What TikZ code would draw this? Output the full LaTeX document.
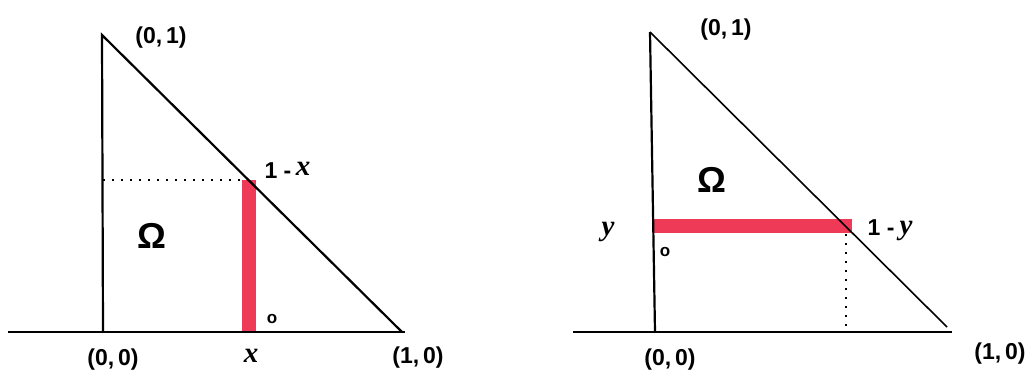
\documentclass[tikz,border=0pt]{standalone}
\usepackage{fontspec}
\setmainfont{Liberation Sans}
\newfontfamily\varfont{Liberation Serif}
\begin{document}
\begin{tikzpicture}[x=1pt,y=-1pt,
  edge/.style={line width=2.2pt,black},
  thin edge/.style={line width=1.6pt,black},
  redbar/.style={line width=14pt,draw={rgb,255:red,238;green,58;blue,86}},
  dots/.style={line width=2pt,dotted,dash pattern=on 2pt off 7pt},
  lab/.style={font=\fontsize{23}{26}\selectfont\bfseries,inner sep=0pt},
  var/.style={font=\fontsize{29}{31}\selectfont\varfont\itshape\bfseries,inner sep=0pt},
  omega/.style={font=\fontsize{36}{40}\selectfont\bfseries,inner sep=0pt},
  small/.style={font=\fontsize{17}{19}\selectfont\bfseries,inner sep=0pt}]
\useasboundingbox (0,0) rectangle (1035,381);
% ---------- left panel ----------
\coordinate (A0) at (103,332);
\coordinate (A1) at (102,35);
\coordinate (A2) at (402,332);
\coordinate (AL) at (8,332);
\coordinate (AR) at (405,332);
\coordinate (Ax) at (249,332);
\coordinate (Ah) at (249,180);
\coordinate (Ad) at (103,180);
\draw[redbar] (Ax) -- (Ah);
\draw[edge] (AL) -- (AR);
\draw[edge] (A0) -- (A1) -- (A2);
\draw[dots] (Ad) -- (Ah);
\node[lab] (a01) at (161,38) {(0,\,1)};
\node[lab] (a00) at (113,360) {(0,\,0)};
\node[var] (ax) at (251,356) {x};
\node[lab] (a1x) at (278,171) {1 -};
\node[var] (a1xv) at (303,169) {x};
\node[lab] (a10) at (418,358) {(1,\,0)};
\node[omega] (aom) at (152,236) {Ω};
\node[small] (ao) at (272,319) {o};
% ---------- right panel ----------
\coordinate (B0) at (655,332);
\coordinate (B1) at (650,32);
\coordinate (B2) at (947,327);
\coordinate (BL) at (573,332);
\coordinate (BR) at (952,332);
\coordinate (By) at (653,226);
\coordinate (Bh) at (852,226);
\coordinate (Bd) at (846,234);
\coordinate (Bb) at (846,332);
\draw[redbar] (By) -- (Bh);
\draw[edge] (BL) -- (BR);
\draw[edge] (B0) -- (B1);
\draw[thin edge] (B1) -- (B2);
\draw[dots] (Bd) -- (Bb);
\node[lab] (b01) at (726,30) {(0,\,1)};
\node[lab] (b00) at (670,360) {(0,\,0)};
\node[lab] (b10) at (1000,354) {(1,\,0)};
\node[lab] (b1y) at (881,228) {1 -};
\node[var] (b1yv) at (906,231) {y};
\node[var] (by) at (608,232) {y};
\node[omega] (bom) at (712,180) {Ω};
\node[small] (bo) at (665,252) {o};
\end{tikzpicture}
\end{document}
